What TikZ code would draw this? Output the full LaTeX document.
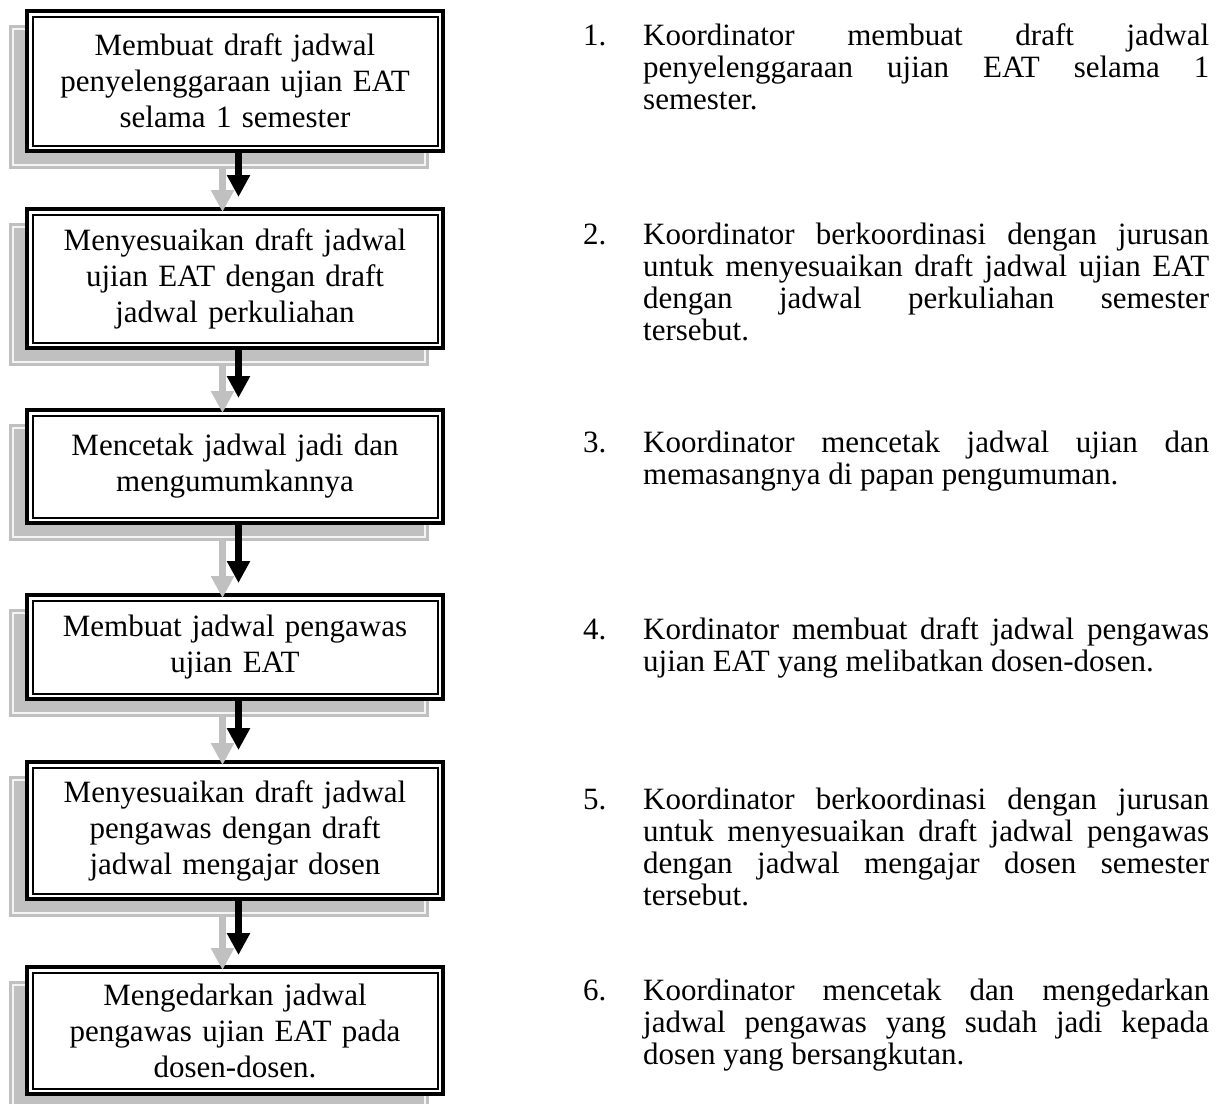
\documentclass[tikz,border=0pt]{standalone}
\usepackage{fontspec}
\setmainfont{Liberation Serif}
\usetikzlibrary{arrows.meta,backgrounds}
\definecolor{shadowgray}{HTML}{C0C0C0}
\definecolor{shadowedge}{HTML}{F4F4F4}
\tikzset{
  stepbox/.style={draw, line width=4pt, fill=white, minimum width=416pt,
    inner sep=0pt, text width=404pt, align=center,
    font=\fontsize{31}{36}\selectfont},
  innerframe/.style={line width=2pt},
  boxshadow/.style={fill=shadowgray},
  shadowrim/.style={draw=shadowedge, line width=1.2pt},
  flowarrow/.style={line width=7.5pt, line cap=butt, -{Triangle[width=22pt,length=22pt]}},
  darkarrow/.style={flowarrow, draw=black},
  ghostarrow/.style={flowarrow, draw=shadowgray},
  stepno/.style={anchor=base west, inner sep=0pt, font=\fontsize{31}{32}\selectfont},
  steptext/.style={anchor=base west, inner sep=0pt, text width=566pt, align=justify,
    font=\fontsize{31}{32}\selectfont,
    execute at begin node={\tolerance=9999\hyphenpenalty=10000\pretolerance=-1}},
}
\begin{document}
\begin{tikzpicture}[x=1pt,y=-1pt]
\useasboundingbox (0,0) rectangle (1220,1103);

% flow steps
\node[stepbox, minimum height=140pt] (b1) at (235,81)
  {Membuat draft jadwal\\ penyelenggaraan ujian EAT\\ selama 1 semester};
\node[stepbox, minimum height=139pt] (b2) at (235,278.5)
  {Menyesuaikan draft jadwal\\ ujian EAT dengan draft\\ jadwal perkuliahan};
\node[stepbox, minimum height=113pt] (b3) at (235,466.5)
  {Mencetak jadwal jadi dan\\ mengumumkannya};
\node[stepbox, minimum height=104pt] (b4) at (235,647)
  {Membuat jadwal pengawas\\ ujian EAT};
\node[stepbox, minimum height=137pt] (b5) at (235,830.5)
  {Menyesuaikan draft jadwal\\ pengawas dengan draft\\ jadwal mengajar dosen};
\node[stepbox, minimum height=127pt] (b6) at (235,1030.5)
  {Mengedarkan jadwal\\ pengawas ujian EAT pada\\ dosen-dosen.};

% inner line of the double frame
\foreach \i in {1,...,6}
  \draw[innerframe] ([shift={(7.5,7.5)}]b\i.north west)
    rectangle ([shift={(-7.5,-7.5)}]b\i.south east);

% bevelled drop shadows
\begin{pgfonlayer}{background}
  \foreach \i in {1,...,6} {
    \fill[boxshadow] ([shift={(-16,16)}]b\i.north west)
      rectangle ([shift={(-16,16)}]b\i.south east);
    \draw[shadowrim] ([shift={(-12,20)}]b\i.north west)
      rectangle ([shift={(-20,12)}]b\i.south east);
  }
\end{pgfonlayer}

% shadow arrows, then flow arrows
\foreach \i/\j in {1/2,2/3,3/4,4/5,5/6}
  \draw[ghostarrow] ([shift={(-12.5,16)}]b\i.south) -- ([shift={(-12.5,5)}]b\j.north);
\foreach \i/\j in {1/2,2/3,3/4,4/5,5/6}
  \draw[darkarrow] ([xshift=3.5pt]b\i.south) -- ([xshift=3.5pt,yshift=10pt]b\j.north);

% numbered descriptions
\node[stepno] (n1) at (583,45) {1.};
\node[steptext] (t1) at (643,45)
  {Koordinator membuat draft jadwal\linebreak penyelenggaraan ujian EAT selama 1\linebreak semester.};
\node[stepno] (n2) at (583,244) {2.};
\node[steptext] (t2) at (643,244)
  {Koordinator berkoordinasi dengan jurusan\linebreak untuk menyesuaikan draft jadwal ujian EAT\linebreak dengan jadwal perkuliahan semester\linebreak tersebut.};
\node[stepno] (n3) at (583,452) {3.};
\node[steptext] (t3) at (643,452)
  {Koordinator mencetak jadwal ujian dan\linebreak memasangnya di papan pengumuman.};
\node[stepno] (n4) at (583,639) {4.};
\node[steptext] (t4) at (643,639)
  {Kordinator membuat draft jadwal pengawas\linebreak ujian EAT yang melibatkan dosen-dosen.};
\node[stepno] (n5) at (583,809) {5.};
\node[steptext] (t5) at (643,809)
  {Koordinator berkoordinasi dengan jurusan\linebreak untuk menyesuaikan draft jadwal pengawas\linebreak dengan jadwal mengajar dosen semester\linebreak tersebut.};
\node[stepno] (n6) at (583,1000) {6.};
\node[steptext] (t6) at (643,1000)
  {Koordinator mencetak dan mengedarkan\linebreak jadwal pengawas yang sudah jadi kepada\linebreak dosen yang bersangkutan.};
\end{tikzpicture}
\end{document}
